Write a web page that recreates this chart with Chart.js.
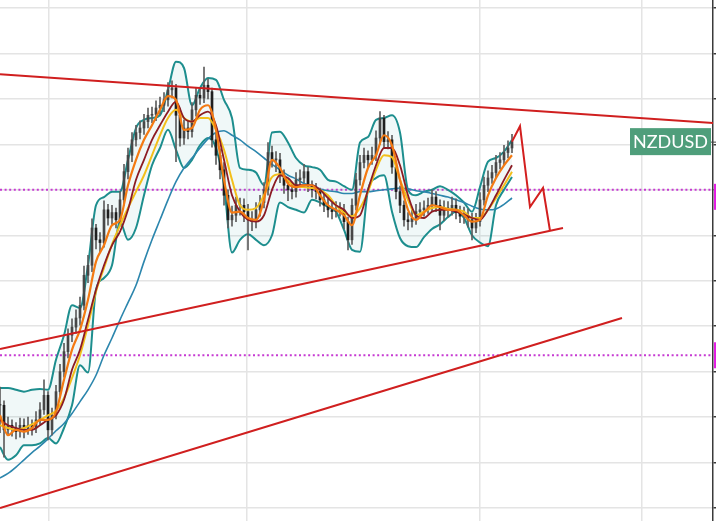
<!DOCTYPE html>
<html><head><meta charset="utf-8">
<script src="https://cdn.jsdelivr.net/npm/chart.js@4.4.1/dist/chart.umd.min.js"></script>
<style>html,body{margin:0;padding:0;background:#fff;overflow:hidden}#wrap{width:716px;height:521px;position:relative}</style>
</head><body><div id="wrap"><canvas id="c" width="716" height="521"></canvas></div>
<script>
const symbol = 'NZDUSD';

// candle data (one value per bar)
const closes = [
.6713,.6686,.6691,.6688,.6684,.6691,.6686,.6691,.6688,.6697,
.6708,.6724,.6686,.6702,.6728,.6750,.6772,.6790,.6799,.6809,
.6823,.6856,.6867,.6908,.6895,.6892,.6928,.6919,.6925,.6917,
.6939,.6970,.6988,.7005,.7013,.7018,.7025,.7032,.7033,.7040,
.7043,.7049,.7060,.7062,.7032,.7007,.7018,.7014,.7038,.7054,
.7051,.7065,.7058,.7005,.6988,.6972,.6944,.6917,.6922,.6933,
.6933,.6926,.6917,.6915,.6928,.6936,.6950,.6991,.6983,.6983,
.6966,.6955,.6950,.6948,.6961,.6963,.6970,.6955,.6950,.6948,
.6939,.6933,.6928,.6926,.6928,.6928,.6915,.6895,.6933,.6961,
.6980,.6988,.6983,.6988,.7007,.7029,.7003,.7005,.6975,.6948,
.6933,.6917,.6915,.6919,.6926,.6928,.6930,.6933,.6942,.6933,
.6922,.6930,.6928,.6933,.6925,.6921,.6922,.6917,.6908,.6915,
.6939,.6955,.6963,.6969,.6980,.6983,.6991,.6996,.7003];
const highs = [
.6733,.6718,.6700,.6697,.6694,.6699,.6698,.6700,.6697,.6706,
.6716,.6741,.6728,.6710,.6735,.6758,.6781,.6797,.6808,.6818,
.6832,.6866,.6878,.6918,.6912,.6903,.6938,.6934,.6933,.6930,
.6948,.6978,.6996,.7013,.7021,.7026,.7033,.7040,.7041,.7048,
.7052,.7057,.7068,.7070,.7066,.7040,.7027,.7026,.7046,.7062,
.7061,.7085,.7072,.7062,.7012,.6995,.6980,.6950,.6932,.6942,
.6941,.6940,.6934,.6926,.6936,.6944,.6958,.7002,.6998,.6992,
.6990,.6972,.6962,.6958,.6969,.6972,.6978,.6975,.6960,.6957,
.6952,.6945,.6940,.6936,.6937,.6936,.6934,.6920,.6940,.6968,
.6988,.6996,.6993,.6997,.7015,.7036,.7032,.7014,.7010,.6980,
.6954,.6938,.6925,.6928,.6934,.6936,.6938,.6941,.6950,.6948,
.6939,.6938,.6937,.6942,.6940,.6932,.6931,.6929,.6924,.6924,
.6947,.6964,.6971,.6977,.6988,.6991,.6999,.7004,.7011];
const lows = [
.6683,.6656,.6680,.6679,.6676,.6678,.6677,.6681,.6680,.6683,
.6692,.6703,.6675,.6680,.6698,.6722,.6744,.6765,.6783,.6792,
.6801,.6818,.6848,.6860,.6885,.6882,.6887,.6911,.6912,.6908,
.6910,.6933,.6962,.6981,.6998,.7006,.7011,.7018,.7024,.7026,
.7033,.7036,.7042,.7051,.6981,.6998,.7000,.7006,.7008,.7031,
.7044,.7046,.7050,.6997,.6978,.6962,.6933,.6908,.6910,.6915,
.6922,.6915,.6884,.6905,.6908,.6921,.6930,.6944,.6975,.6970,
.6958,.6946,.6938,.6940,.6942,.6954,.6958,.6948,.6942,.6940,
.6932,.6926,.6920,.6918,.6920,.6921,.6907,.6884,.6890,.6928,
.6955,.6974,.6975,.6978,.6982,.7000,.6996,.6995,.6968,.6940,
.6925,.6910,.6906,.6909,.6912,.6920,.6921,.6924,.6927,.6926,
.6906,.6916,.6920,.6922,.6918,.6914,.6913,.6909,.6895,.6903,
.6910,.6933,.6948,.6957,.6963,.6973,.6977,.6985,.6991];

// indicator readings (every second bar)
const maBars = [0,2,4,6,8,10,12,14,16,18,20,22,24,26,28,30,32,34,36,38,40,42,44,46,48,50,52,54,56,58,60,62,64,66,68,70,72,74,76,78,80,82,84,86,88,90,92,94,96,98,100,102,104,106,108,110,112,114,116,118,120,122,124,126,128];
const maFast = [
.6702,.6680,.6686,.6684,.6688,.6697,.6697,.6706,.6741,.6774,
.6796,.6829,.6871,.6889,.6911,.6917,.6955,.6983,.7005,.7021,
.7038,.7053,.7049,.7016,.7018,.7038,.7043,.7016,.6961,.6925,
.6926,.6919,.6917,.6939,.6983,.6974,.6957,.6953,.6955,.6955,
.6944,.6933,.6928,.6922,.6911,.6944,.6974,.6988,.7010,.6999,
.6961,.6928,.6917,.6925,.6933,.6931,.6928,.6928,.6922,.6915,
.6917,.6944,.6963,.6977,.6988];
const maMid = [
.6697,.6691,.6688,.6686,.6686,.6691,.6697,.6702,.6719,.6752,
.6774,.6807,.6840,.6867,.6889,.6904,.6928,.6961,.6983,.7005,
.7021,.7036,.7047,.7029,.7025,.7032,.7036,.7021,.6983,.6944,
.6926,.6917,.6915,.6922,.6950,.6966,.6963,.6955,.6955,.6955,
.6950,.6941,.6933,.6928,.6919,.6922,.6950,.6977,.6996,.6996,
.6977,.6944,.6922,.6919,.6926,.6928,.6928,.6926,.6923,.6919,
.6917,.6928,.6944,.6961,.6977];
const maSlow = [
.6691,.6688,.6686,.6688,.6692,.6697,.6702,.6707,.6721,.6743,
.6768,.6801,.6838,.6864,.6890,.6911,.6930,.6948,.6966,.6988,
.7010,.7029,.7038,.7029,.7025,.7029,.7029,.7016,.6994,.6961,
.6933,.6928,.6930,.6944,.6964,.6967,.6960,.6954,.6953,.6952,
.6950,.6944,.6933,.6925,.6921,.6930,.6948,.6972,.6988,.6986,
.6961,.6939,.6922,.6926,.6930,.6931,.6929,.6928,.6926,.6919,
.6919,.6928,.6941,.6955,.6970];
const maLong = [
.6633,.6638,.6645,.6653,.6661,.6668,.6676,.6685,.6693,.6704,
.6717,.6730,.6746,.6768,.6787,.6807,.6826,.6845,.6871,.6895,
.6917,.6939,.6959,.6974,.6985,.6996,.7006,.7013,.7015,.7010,
.7005,.6998,.6992,.6985,.6978,.6972,.6966,.6962,.6957,.6954,
.6951,.6949,.6948,.6946,.6946,.6948,.6948,.6949,.6950,.6951,
.6952,.6951,.6949,.6948,.6946,.6944,.6942,.6939,.6936,.6932,
.6929,.6928,.6929,.6934,.6941];
const bbUpper = [
.6732,.6732,.6730,.6728,.6730,.6731,.6730,.6763,.6790,.6823,
.6820,.6867,.6933,.6942,.6948,.6948,.6983,.7018,.7027,.7029,
.7032,.7060,.7091,.7084,.7043,.7062,.7073,.7071,.7049,.7029,
.6974,.6972,.6969,.6955,.7013,.7014,.7002,.6985,.6977,.6975,
.6972,.6961,.6959,.6954,.6950,.7002,.7008,.7027,.7029,.7032,
.7013,.6950,.6944,.6948,.6950,.6954,.6950,.6944,.6936,.6926,
.6953,.6981,.6985,.6992,.7005];
const bbLower = [
.6667,.6653,.6658,.6669,.6669,.6671,.6677,.6671,.6688,.6713,
.6757,.6749,.6840,.6853,.6867,.6915,.6895,.6908,.6944,.6977,
.6996,.7016,.6994,.6974,.6983,.6999,.7007,.6996,.6955,.6881,
.6895,.6901,.6895,.6889,.6900,.6936,.6931,.6928,.6925,.6939,
.6936,.6931,.6926,.6906,.6884,.6882,.6950,.6963,.6966,.6926,
.6897,.6888,.6887,.6898,.6907,.6912,.6920,.6926,.6919,.6900,
.6892,.6888,.6933,.6950,.6964];

// axes
const priceTicks = [0.6600,0.6650,0.6700,0.6750,0.6800,0.6850,0.6900,0.6950,0.7000,0.7050,0.7100,0.7150];
const monthTicks = [12.25, 61.75, 120, 160.5];
const monthLabels = ['Oct', 'Jan', 'Apr', 'Jul'];
const yMin = 0.65857, yMax = 0.71588, xMin = 0, xMax = 178.25;

// drawings
const levelLines = [0.6950, 0.6768];
const upperTrend = [[0, 0.7077], [180, 0.7023]];
const midTrend = [[0, 0.6775], [140.75, 0.6908]];
const lowerTrend = [[0, 0.6600], [155.5, 0.6809]];
const projection = [[128, 0.7003], [130, 0.7020], [132.5, 0.6931], [135.75, 0.6952], [137.5, 0.6905]];

const pts = pairs => pairs.map(p => ({x: p[0], y: p[1]}));
const ser = vals => vals.map((v, k) => ({x: maBars[k], y: v}));
const lineDs = (data, color, width, order, extra) => Object.assign({
  type: 'line', data, borderColor: color, borderWidth: width, pointRadius: 0,
  fill: false, order, cubicInterpolationMode: 'monotone'
}, extra || {});

const wicks = closes.map((c, i) => ({x: i, y: [lows[i], highs[i]]}));
const bodies = closes.map((c, i) => ({x: i, y: [i ? closes[i - 1] : c, c]}));

const labelsPlugin = {
  id: 'labels',
  afterDraw(chart) {
    const {ctx, chartArea, scales: {y}} = chart;
    const W = chart.width;
    ctx.save();
    ctx.fillStyle = '#e41de4';
    const y1 = y.getPixelForValue(levelLines[0]);
    ctx.fillRect(chartArea.right + 1, y1 - 6, W - chartArea.right, 26);
    const y2 = y.getPixelForValue(levelLines[1]);
    ctx.fillRect(chartArea.right + 1, y2 - 13, W - chartArea.right, 26);
    const ly = y.getPixelForValue(closes[closes.length - 1]);
    const bw = 81, bh = 27, bx = chartArea.right - 2 - bw;
    ctx.fillStyle = '#4f9e7b';
    ctx.fillRect(bx, ly - bh / 2, bw, bh);
    ctx.strokeStyle = '#444';
    ctx.lineWidth = 1;
    ctx.beginPath(); ctx.moveTo(bx + bw, ly + 0.5); ctx.lineTo(W, ly + 0.5); ctx.stroke();
    ctx.fillStyle = '#ffffff';
    ctx.font = '18px Lato';
    ctx.textAlign = 'center'; ctx.textBaseline = 'middle';
    ctx.fillText(symbol, bx + bw / 2, ly + 1);
    ctx.restore();
  }
};

new Chart(document.getElementById('c'), {
  type: 'line',
  data: {
    datasets: [
      lineDs(pts(projection), '#d31f1f', 2, 0, {cubicInterpolationMode: 'default', tension: 0}),
      lineDs(pts(upperTrend), '#d01f1f', 2, 0, {tension: 0}),
      lineDs(pts(midTrend), '#d01f1f', 2, 0, {tension: 0}),
      lineDs(pts(lowerTrend), '#d01f1f', 2, 0, {tension: 0}),
      lineDs(ser(maFast), '#f47a12', 2.2, 1),
      lineDs(ser(maMid), '#8c1c24', 1.8, 2),
      lineDs(ser(maSlow), '#f3bf1b', 2, 3),
      {type: 'bar', data: bodies, order: 4, grouped: false, barThickness: 2, minBarLength: 1,
       backgroundColor: c => { const i = c.dataIndex; return (i && closes[i] < closes[i - 1]) ? '#1f1f1f' : '#474747'; }},
      {type: 'bar', data: wicks, order: 5, grouped: false, barThickness: 1, backgroundColor: '#5e5e5e'},
      lineDs(ser(maLong), '#2c86ad', 1.6, 6),
      lineDs(ser(bbUpper), '#1d8e8e', 2, 7),
      lineDs(ser(bbLower), '#1d8e8e', 2, 8, {fill: '-1', backgroundColor: 'rgba(40,160,160,0.07)'}),
      lineDs(pts([[xMin, levelLines[0]], [xMax, levelLines[0]]]), '#c63ad2', 2, 9, {borderDash: [2, 2.6], tension: 0}),
      lineDs(pts([[xMin, levelLines[1]], [xMax, levelLines[1]]]), '#c63ad2', 2, 9, {borderDash: [2, 2.6], tension: 0})
    ]
  },
  options: {
    responsive: false, animation: false, devicePixelRatio: 1,
    layout: {padding: 0},
    plugins: {legend: {display: false}, tooltip: {enabled: false}},
    scales: {
      x: {
        type: 'linear', min: xMin, max: xMax, offset: false,
        grid: {offset: false, color: '#e4e4e4', lineWidth: 1.5, drawTicks: false},
        border: {display: false},
        ticks: {display: false, callback: (v, i) => monthLabels[i]},
        afterBuildTicks: s => { s.ticks = monthTicks.map(v => ({value: v})); },
        afterFit: s => { s.height = 0; }
      },
      y: {
        type: 'linear', position: 'right', min: yMin, max: yMax,
        grid: {color: '#e4e4e4', lineWidth: 1.5, drawTicks: true, tickLength: 4, tickColor: '#3a3a3a'},
        border: {display: true, color: '#3a3a3a', width: 1.5},
        ticks: {display: false},
        afterBuildTicks: s => { s.ticks = priceTicks.map(v => ({value: v})); },
        afterFit: s => { s.width = 3; }
      }
    }
  },
  plugins: [labelsPlugin]
});
</script>
</body></html>
